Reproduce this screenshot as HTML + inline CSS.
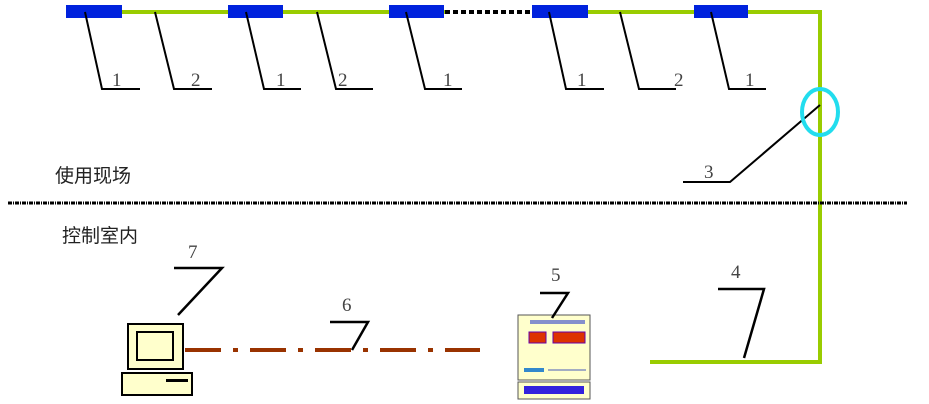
<!DOCTYPE html>
<html><head><meta charset="utf-8"><style>
html,body{margin:0;padding:0;background:#fff;width:929px;height:404px;overflow:hidden}
svg{display:block}
text{font-family:"Liberation Serif",serif;fill:#444;font-size:19px}
.cn{font-family:"Liberation Sans","Noto Sans CJK SC",sans-serif;fill:#222;font-size:19px}
</style></head><body>
<svg width="929" height="404" viewBox="0 0 929 404">
<polyline points="122,12 820,12 820,362 650,362" fill="none" stroke="#99cc00" stroke-width="4"/>
<line x1="445" y1="12" x2="532" y2="12" stroke="#fff" stroke-width="6"/>
<line x1="445" y1="12" x2="532" y2="12" stroke="#000" stroke-width="4" stroke-dasharray="5,3"/>
<g fill="#0022dd">
<rect x="66" y="5" width="56" height="13"/>
<rect x="228" y="5" width="55" height="13"/>
<rect x="389" y="5" width="55" height="13"/>
<rect x="532" y="5" width="56" height="13"/>
<rect x="694" y="5" width="54" height="13"/>
</g>
<g fill="none" stroke="#000" stroke-width="2">
<polyline points="85,12 102,89 140,89"/>
<polyline points="155,12 174,89 212,89"/>
<polyline points="246,12 264,89 301,89"/>
<polyline points="317,12 336,89 373,89"/>
<polyline points="406,12 425,89 462,89"/>
<polyline points="549,12 566,89 604,89"/>
<polyline points="620,12 639,89 676,89"/>
<polyline points="711,12 729,89 766,89"/>
<polyline points="820,105 730,182 683,182"/>
</g>
<g>
<text x="112" y="86">1</text><text x="191" y="86">2</text>
<text x="276" y="86">1</text><text x="338" y="86">2</text>
<text x="443" y="86">1</text><text x="577" y="86">1</text>
<text x="674" y="86">2</text><text x="745" y="86">1</text>
<text x="704" y="178">3</text>
</g>
<ellipse cx="820" cy="112" rx="18" ry="23" fill="none" stroke="#22ddee" stroke-width="4"/>
<line x1="8" y1="203" x2="907" y2="203" stroke="#000" stroke-width="3" stroke-dasharray="4,1,1,1"/>
<text class="cn" x="55" y="182">使用现场</text>
<text class="cn" x="62" y="242">控制室内</text>
<rect x="128" y="324" width="55" height="45" fill="#ffffcc" stroke="#000" stroke-width="2"/>
<rect x="137" y="332" width="36" height="28" fill="#ffffcc" stroke="#000" stroke-width="2"/>
<rect x="122" y="373" width="70" height="22" fill="#ffffcc" stroke="#000" stroke-width="2"/>
<rect x="166" y="379" width="22" height="3" fill="#000"/>
<line x1="185" y1="350" x2="480" y2="350" stroke="#993300" stroke-width="4" stroke-dasharray="36,12,5,12"/>
<rect x="518" y="315" width="72" height="65" fill="#ffffcc" stroke="#555" stroke-width="1"/>
<rect x="518" y="382" width="72" height="17" fill="#ffffcc" stroke="#555" stroke-width="1"/>
<rect x="529" y="332" width="17" height="11" fill="#dd3300" stroke="#6600aa"/>
<rect x="553" y="332" width="32" height="11" fill="#dd3300" stroke="#6600aa"/>
<rect x="530" y="320" width="55" height="4" fill="#3344cc" opacity=".6"/>
<rect x="524" y="368" width="20" height="4" fill="#3388cc"/>
<rect x="548" y="369" width="38" height="2" fill="#6677bb" opacity=".6"/>
<rect x="524" y="386" width="60" height="8" fill="#3322dd"/>
<g fill="none" stroke="#000" stroke-width="2.5">
<polyline points="174,268 222,268 178,315"/>
<polyline points="330,322 368,322 352,350"/>
<polyline points="540,293 568,293 552,318"/>
<polyline points="718,289 764,289 744,358"/>
</g>
<text x="188" y="258">7</text><text x="342" y="311">6</text>
<text x="551" y="281">5</text><text x="731" y="278">4</text>
</svg>
</body></html>
